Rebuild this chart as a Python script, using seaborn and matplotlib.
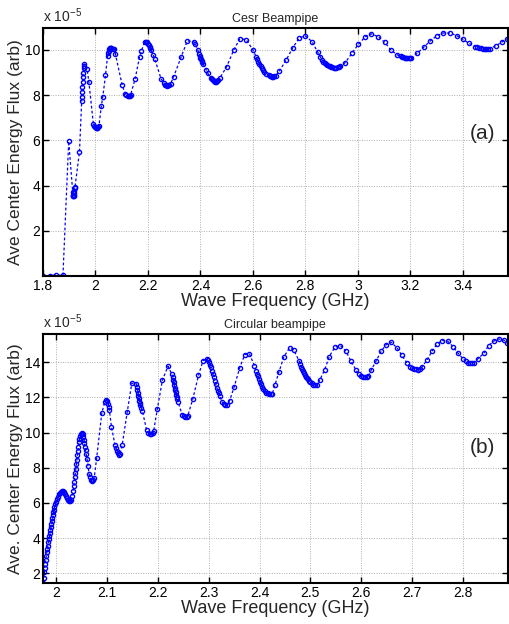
import numpy as np
import pandas as pd
import matplotlib
matplotlib.use("Agg")
import matplotlib.pyplot as plt
import seaborn as sns
from matplotlib.ticker import FuncFormatter

# Cesr beampipe: frequency (GHz) and flux (x 1e-5 arb)
cesr_freq = [1.800, 1.825, 1.850, 1.876, 1.898, 1.913, 1.914, 1.915, 1.916, 1.917, 1.918, 1.919, 1.920, 1.921, 1.922,
             1.939, 1.947, 1.948, 1.949, 1.950, 1.951, 1.952, 1.953, 1.955, 1.956, 1.958, 1.968, 1.975,
             1.992, 1.995, 1.998, 2.001, 2.004, 2.007, 2.010, 2.013, 2.022, 2.028, 2.038,
             2.046, 2.048, 2.050, 2.052, 2.054, 2.056, 2.058, 2.060, 2.066, 2.072, 2.076, 2.102,
             2.114, 2.118, 2.122, 2.126, 2.130, 2.134, 2.151, 2.168, 2.175, 2.187,
             2.193, 2.197, 2.200, 2.203, 2.206, 2.209, 2.212, 2.220, 2.226, 2.250,
             2.262, 2.266, 2.270, 2.274, 2.278, 2.282, 2.286, 2.298, 2.326, 2.350, 2.375, 2.381, 2.390,
             2.396, 2.398, 2.400, 2.402, 2.404, 2.406, 2.411, 2.422, 2.428,
             2.440, 2.444, 2.448, 2.452, 2.456, 2.460, 2.464, 2.468, 2.475, 2.500, 2.527, 2.550, 2.574,
             2.600, 2.612, 2.617, 2.621, 2.625, 2.629, 2.633, 2.637, 2.641, 2.650,
             2.662, 2.666, 2.670, 2.674, 2.678, 2.682, 2.686, 2.701, 2.727, 2.752, 2.777, 2.800, 2.825,
             2.847, 2.856, 2.863, 2.868, 2.873, 2.878, 2.883, 2.888, 2.893, 2.898, 2.903, 2.908, 2.913,
             2.918, 2.923, 2.928, 2.933, 2.952, 2.977, 3.002, 3.027, 3.051, 3.077, 3.102, 3.126, 3.150,
             3.163, 3.168, 3.173, 3.178, 3.183, 3.188, 3.193, 3.198, 3.203, 3.226, 3.251, 3.276, 3.301,
             3.326, 3.352, 3.377, 3.400, 3.424, 3.447, 3.455, 3.462, 3.469, 3.476, 3.483, 3.490, 3.497,
             3.504, 3.526, 3.548, 3.567]
cesr_flux = [0.00, 0.02, 0.05, 0.03, 5.96, 3.70, 3.60, 3.55, 3.52, 3.55, 3.60, 3.68, 3.78, 3.90, 3.95,
             5.50, 7.72, 7.94, 8.16, 8.38, 8.60, 8.80, 9.00, 9.18, 9.30, 9.37, 9.16, 8.56,
             6.72, 6.65, 6.60, 6.56, 6.54, 6.55, 6.58, 6.62, 7.50, 7.94, 8.87,
             9.72, 9.85, 9.95, 10.03, 10.08, 10.10, 10.10, 10.08, 10.06, 10.04, 9.81, 8.43,
             8.05, 8.00, 7.97, 7.96, 7.98, 8.02, 8.72, 9.70, 9.96, 10.34,
             10.36, 10.33, 10.28, 10.22, 10.15, 10.08, 10.00, 9.78, 9.59, 8.72,
             8.52, 8.46, 8.43, 8.42, 8.43, 8.45, 8.50, 8.82, 9.68, 10.40, 10.37, 10.25, 10.00,
             9.80, 9.72, 9.65, 9.58, 9.52, 9.46, 9.37, 9.12, 8.97,
             8.76, 8.70, 8.65, 8.62, 8.60, 8.60, 8.62, 8.65, 8.78, 9.26, 10.00, 10.49, 10.46,
             10.00, 9.70, 9.58, 9.48, 9.38, 9.28, 9.18, 9.10, 9.04, 8.93,
             8.88, 8.85, 8.83, 8.82, 8.82, 8.83, 8.85, 9.07, 9.56, 10.10, 10.54, 10.62, 10.37,
             9.90, 9.70, 9.56, 9.48, 9.42, 9.38, 9.34, 9.30, 9.28, 9.25, 9.24, 9.22, 9.22,
             9.22, 9.23, 9.25, 9.28, 9.44, 9.85, 10.25, 10.57, 10.71, 10.59, 10.34, 10.00, 9.78,
             9.72, 9.69, 9.67, 9.65, 9.64, 9.63, 9.63, 9.64, 9.66, 9.85, 10.12, 10.40, 10.63,
             10.75, 10.75, 10.63, 10.47, 10.29, 10.15, 10.12, 10.09, 10.07, 10.05, 10.04, 10.04, 10.05,
             10.06, 10.19, 10.34, 10.49]

# Circular beampipe
circ_freq = [1.975, 1.976, 1.977, 1.978, 1.979, 1.980, 1.981, 1.982, 1.983, 1.984, 1.985, 1.986, 1.987, 1.988,
             1.989, 1.990, 1.991, 1.992, 1.993, 1.994, 1.995, 1.996, 1.997, 1.998, 2.000, 2.002, 2.004,
             2.006, 2.008, 2.010, 2.012, 2.014, 2.016, 2.018, 2.020, 2.022, 2.024, 2.026, 2.028, 2.030,
             2.032, 2.034, 2.035, 2.036, 2.037, 2.038, 2.039, 2.040, 2.041, 2.042, 2.043, 2.044, 2.045,
             2.046, 2.047, 2.049, 2.051, 2.053, 2.054, 2.055, 2.056, 2.057, 2.058, 2.059, 2.061, 2.063,
             2.065, 2.067, 2.069, 2.071, 2.073, 2.075, 2.080, 2.090, 2.096, 2.099, 2.101, 2.103, 2.104,
             2.105, 2.109, 2.116, 2.118, 2.120, 2.122, 2.124, 2.126, 2.130, 2.140, 2.149, 2.158, 2.159,
             2.160, 2.161, 2.162, 2.163, 2.164, 2.165, 2.166, 2.168, 2.170, 2.178, 2.181, 2.184, 2.187,
             2.190, 2.192, 2.199, 2.209, 2.220, 2.228, 2.229, 2.230, 2.231, 2.232, 2.233, 2.234, 2.235,
             2.236, 2.237, 2.238, 2.240, 2.248, 2.251, 2.254, 2.257, 2.259, 2.269, 2.280, 2.289, 2.296,
             2.298, 2.300, 2.302, 2.304, 2.306, 2.308, 2.310, 2.312, 2.314, 2.316, 2.318, 2.320, 2.322,
             2.327, 2.330, 2.333, 2.336, 2.341, 2.350, 2.361, 2.371, 2.380, 2.390, 2.393, 2.395, 2.397,
             2.399, 2.401, 2.403, 2.405, 2.407, 2.410, 2.413, 2.416, 2.419, 2.422, 2.425, 2.430, 2.438,
             2.448, 2.459, 2.467, 2.478, 2.480, 2.482, 2.484, 2.486, 2.488, 2.490, 2.492, 2.494, 2.496,
             2.498, 2.500, 2.503, 2.506, 2.509, 2.512, 2.518, 2.528, 2.537, 2.548, 2.559, 2.570, 2.579,
             2.590, 2.595, 2.599, 2.603, 2.607, 2.611, 2.614, 2.619, 2.629, 2.639, 2.649, 2.659, 2.670,
             2.680, 2.690, 2.696, 2.700, 2.704, 2.708, 2.712, 2.716, 2.720, 2.729, 2.739, 2.749, 2.759,
             2.770, 2.780, 2.790, 2.800, 2.806, 2.810, 2.814, 2.818, 2.822, 2.829, 2.841, 2.850, 2.860,
             2.870, 2.880, 2.886]
circ_flux = [1.45, 1.75, 2.05, 2.30, 2.55, 2.78, 3.00, 3.20, 3.40, 3.58, 3.76, 3.93, 4.10, 4.28,
             4.45, 4.62, 4.80, 4.97, 5.14, 5.30, 5.46, 5.62, 5.77, 5.92, 6.08, 6.22, 6.36,
             6.48, 6.58, 6.64, 6.68, 6.66, 6.60, 6.50, 6.38, 6.26, 6.16, 6.10, 6.10, 6.18,
             6.40, 6.70, 6.95, 7.20, 7.45, 7.70, 7.95, 8.20, 8.45, 8.70, 8.95, 9.20, 9.45,
             9.65, 9.80, 9.92, 9.98, 9.90, 9.75, 9.57, 9.40, 9.20, 9.00, 8.81, 8.50, 8.10,
             7.64, 7.45, 7.32, 7.25, 7.28, 7.40, 8.57, 11.11, 11.75, 11.85, 11.80, 11.60, 11.45,
             11.26, 10.32, 9.30, 9.10, 8.95, 8.82, 8.75, 8.78, 9.28, 11.17, 12.81, 12.77, 12.60,
             12.42, 12.25, 12.10, 11.95, 11.80, 11.68, 11.55, 11.40, 11.20, 10.15, 10.00, 9.92, 9.90,
             9.95, 10.10, 11.32, 12.96, 13.77, 13.30, 13.15, 13.00, 12.85, 12.70, 12.55, 12.42, 12.28,
             12.15, 12.02, 11.90, 11.74, 11.00, 10.92, 10.88, 10.90, 10.96, 11.92, 13.25, 14.09, 14.18,
             14.12, 14.00, 13.85, 13.70, 13.52, 13.35, 13.15, 12.95, 12.75, 12.55, 12.38, 12.22, 12.06,
             11.72, 11.62, 11.55, 11.55, 11.80, 12.58, 13.68, 14.43, 14.47, 13.81, 13.50, 13.35, 13.20,
             13.05, 12.90, 12.75, 12.60, 12.48, 12.35, 12.27, 12.22, 12.19, 12.18, 12.20, 12.68, 13.43,
             14.32, 14.81, 14.70, 14.06, 13.90, 13.75, 13.62, 13.50, 13.38, 13.27, 13.18, 13.10, 13.03,
             12.95, 12.88, 12.80, 12.72, 12.68, 12.68, 12.96, 13.57, 14.32, 14.85, 14.94, 14.62, 14.09,
             13.53, 13.30, 13.22, 13.18, 13.16, 13.16, 13.20, 13.53, 14.06, 14.62, 15.00, 15.13, 14.81,
             14.38, 13.94, 13.75, 13.68, 13.63, 13.60, 13.58, 13.60, 13.75, 14.13, 14.62, 15.04, 15.23,
             15.19, 14.89, 14.51, 14.19, 14.05, 13.98, 13.95, 13.95, 13.98, 14.19, 14.51, 14.94, 15.19,
             15.32, 15.26, 15.08]

xticks_a = [1.8, 2.0, 2.2, 2.4, 2.6, 2.8, 3.0, 3.2, 3.4]
yticks_a = [2, 4, 6, 8, 10]
xticks_b = [2.0, 2.1, 2.2, 2.3, 2.4, 2.5, 2.6, 2.7, 2.8]
yticks_b = [2, 4, 6, 8, 10, 12, 14]

sns.set_theme(style="ticks")
plt.rcParams['font.family'] = ['Liberation Sans', 'DejaVu Sans']
plt.rcParams['mathtext.fontset'] = 'custom'
plt.rcParams['mathtext.rm'] = 'Liberation Sans'

fig = plt.figure(figsize=(5.09, 6.24), dpi=100)
ax1 = fig.add_axes([0.0845, 0.5577, 0.913, 0.3974])
ax2 = fig.add_axes([0.0845, 0.0657, 0.913, 0.3990])

df_a = pd.DataFrame({'freq': cesr_freq, 'flux': cesr_flux})
df_b = pd.DataFrame({'freq': circ_freq, 'flux': circ_flux})

line_kw = dict(color='blue', marker='o', markersize=3.0, markerfacecolor='none',
               markeredgecolor='blue', markeredgewidth=1.0, linewidth=0.9,
               dashes=(2.2, 1.8), sort=False, estimator=None)

sns.lineplot(data=df_a, x='freq', y='flux', ax=ax1, **line_kw)
sns.lineplot(data=df_b, x='freq', y='flux', ax=ax2, **line_kw)

fmt = FuncFormatter(lambda v, p: '%g' % round(v, 3))

panels = [
    (ax1, (1.8, 3.571), (0, 10.97), xticks_a, yticks_a, 'Cesr Beampipe',
     'Ave Center Energy Flux (arb)', '(a)', (3.474, 6.3)),
    (ax2, (1.9745, 2.8877), (1.45, 15.6), xticks_b, yticks_b, 'Circular beampipe',
     'Ave. Center Energy Flux (arb)', '(b)', (2.838, 9.17)),
]

for ax, xl, yl, xt, yt, title, ylab, tag, tagpos in panels:
    ax.set_xlim(*xl)
    ax.set_ylim(*yl)
    ax.set_xticks(xt)
    ax.set_yticks(yt)
    ax.xaxis.set_major_formatter(fmt)
    ax.yaxis.set_major_formatter(fmt)
    ax.grid(True, color='#b0b0b0', linestyle=(0, (1, 1.5)), linewidth=0.7)
    ax.tick_params(direction='in', top=True, right=True, length=4, width=1,
                   labelsize=10, pad=2, colors='black')
    for s in ax.spines.values():
        s.set_linewidth(1.5)
        s.set_color('black')
    ax.set_title(title, fontsize=9, pad=4)
    ax.set_xlabel('Wave Frequency (GHz)', fontsize=13, labelpad=0)
    ax.set_ylabel(ylab, fontsize=12.5, labelpad=1)
    ax.text(0.0, 1.012, r'x 10$^{-5}$', transform=ax.transAxes, fontsize=10,
            ha='left', va='bottom')
    ax.text(tagpos[0], tagpos[1], tag, fontsize=15, ha='center', va='center')

fig.savefig('out.png', dpi=100)
